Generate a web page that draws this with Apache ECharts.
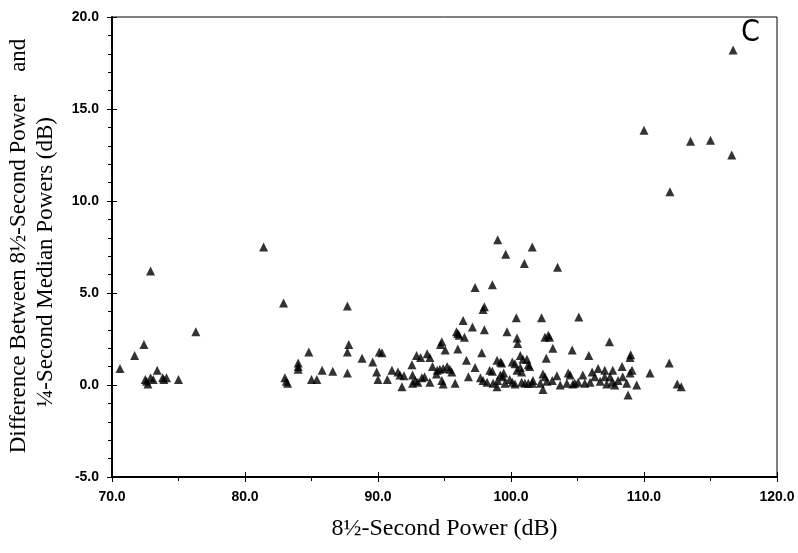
<!DOCTYPE html>
<html>
<head>
<meta charset="utf-8">
<script src="https://cdn.jsdelivr.net/npm/echarts@6/dist/echarts.min.js"></script>
<style>html,body{margin:0;padding:0;background:#fff}#c{width:798px;height:553px}</style>
</head>
<body>
<div id="c"></div>
<script>
// 8½-second power (dB)
var powerX = [
70.6,71.7,72.4,72.9,72.5,72.6,72.7,72.9,73.1,73.4,73.8,73.9,74.1,75.0,76.3,
81.4,82.9,83.0,83.1,83.2,84.0,84.0,84.0,84.8,85.0,85.4,85.8,86.6,87.7,87.7,87.8,87.7,
88.8,89.6,90.1,90.3,89.9,90.0,90.7,91.05,91.5,91.65,91.95,91.8,92.55,92.6,92.8,93.0,92.6,92.9,
93.2,93.7,93.9,93.3,93.5,93.9,94.1,94.45,94.4,94.65,94.9,95.2,95.4,95.55,94.8,94.7,94.8,94.9,
95.05,95.8,95.9,96.0,96.1,96.0,96.4,96.5,96.65,96.8,97.1,97.3,97.3,97.8,97.7,97.9,97.9,98.0,
98.0,98.2,98.4,98.6,98.6,98.65,98.95,98.95,99.2,99.3,99.0,99.0,99.2,99.4,99.45,99.55,99.6,99.7,
99.9,100.1,100.1,100.3,100.3,100.4,100.45,100.5,100.7,100.45,100.7,100.8,100.8,100.9,101.05,101.3,
101.6,101.0,101.2,101.3,101.4,101.6,101.65,102.2,102.3,102.55,102.8,102.9,102.4,102.55,102.7,102.65,
102.4,103.15,103.1,103.45,103.5,103.7,104.2,104.3,104.45,104.65,104.8,104.6,105.05,105.1,105.4,105.55,
105.85,105.95,106.1,106.3,106.55,106.7,107.05,107.05,107.2,107.45,107.4,107.6,107.65,107.8,108.05,108.35,
108.4,108.7,108.8,108.95,109.0,108.95,109.1,109.45,110.0,110.45,111.9,111.95,112.5,112.8,113.5,115.0,
116.6,116.7
];
// Difference between 8½-second power and ¼-second median powers (dB)
var diffY = [
0.9,1.6,2.2,6.2,0.3,0.2,0.05,0.4,0.3,0.8,0.4,0.3,0.4,0.3,2.9,
7.5,4.45,0.4,0.2,0.1,1.2,1.0,0.85,1.8,0.3,0.3,0.8,0.75,0.65,1.8,2.2,4.3,
1.45,1.25,1.8,1.75,0.7,0.3,0.3,0.8,0.7,0.55,0.5,-0.1,1.1,0.55,0.25,0.15,0.1,1.6,
1.5,1.7,1.5,0.4,0.45,0.15,1.0,0.8,0.6,0.85,0.9,1.0,0.85,0.7,2.35,2.2,0.25,0.05,
1.9,0.1,2.9,2.8,2.7,1.95,3.5,2.6,1.35,0.45,3.15,0.95,5.3,1.75,0.4,0.25,4.1,4.25,
3.0,0.15,0.8,5.45,0.75,0.1,-0.1,1.35,1.25,1.2,7.9,0.25,0.55,0.45,0.65,0.1,7.1,2.9,
0.3,0.15,1.25,1.15,0.05,3.65,2.55,2.25,1.6,0.8,0.95,0.7,0.15,1.4,0.1,0.1,
0.1,6.6,1.4,1.1,1.0,7.5,0.25,0.1,3.65,2.6,2.7,2.6,0.6,0.45,0.2,1.45,
-0.25,2.0,0.25,0.5,6.4,0.0,0.1,0.65,0.55,0.05,0.1,1.9,0.15,3.7,0.55,0.1,
1.6,0.15,0.7,0.45,0.9,0.2,0.8,0.45,0.05,0.45,2.35,0.15,0.8,0.0,0.25,1.0,
0.45,0.1,-0.55,0.65,1.65,1.5,0.8,0.0,13.85,0.65,1.2,10.5,0.05,-0.1,13.25,13.3,
12.5,18.2
];
var xTicks = {min: 70, max: 120, step: 10};
var yTicks = {min: -5, max: 20, step: 5};
var panelLabel = 'C';
var xTitle = '8½-Second Power (dB)';
var yTitle1 = 'Difference Between 8½-Second Power    and';
var yTitle2 = '¼-Second Median Powers (dB)';

var pts = powerX.map(function (x, i) { return [x, diffY[i]]; });
var fmt = function (v) { return v.toFixed(1); };
var lblStyle = {color: '#000', fontFamily: 'Liberation Sans', fontWeight: 'bold', fontSize: 14};

var chart = echarts.init(document.getElementById('c'));
chart.setOption({
  backgroundColor: '#fff',
  animation: false,
  grid: {left: 112, right: 21, top: 17, bottom: 76, show: true, borderColor: '#000', borderWidth: 1, backgroundColor: 'transparent'},
  xAxis: [{
    type: 'value', min: xTicks.min, max: xTicks.max, interval: xTicks.step,
    axisLine: {onZero: false, lineStyle: {color: '#000', width: 2}},
    axisTick: {show: true, length: 5, lineStyle: {color: '#000', width: 1}},
    minorTick: {show: true, splitNumber: 2, length: 4, lineStyle: {color: '#000'}},
    splitLine: {show: false},
    axisLabel: Object.assign({formatter: fmt, margin: 13}, lblStyle),
    name: xTitle, nameLocation: 'middle', nameGap: 40,
    nameTextStyle: {fontFamily: 'Liberation Serif', fontSize: 24, color: '#000'}
  }, {
    type: 'value', min: xTicks.min, max: xTicks.max, interval: xTicks.step, position: 'bottom',
    axisLine: {show: false, onZero: false},
    axisTick: {show: true, inside: true, length: 5, lineStyle: {color: '#000'}},
    axisLabel: {show: false}, splitLine: {show: false}
  }],
  yAxis: [{
    type: 'value', min: yTicks.min, max: yTicks.max, interval: yTicks.step,
    axisLine: {show: true, onZero: false, lineStyle: {color: '#000', width: 2}},
    axisTick: {show: true, length: 5, lineStyle: {color: '#000'}},
    minorTick: {show: true, splitNumber: 5, length: 4, lineStyle: {color: '#000'}},
    splitLine: {show: false},
    axisLabel: Object.assign({formatter: fmt, margin: 13}, lblStyle)
  }, {
    type: 'value', min: yTicks.min, max: yTicks.max, interval: yTicks.step, position: 'left',
    axisLine: {show: false, onZero: false},
    axisTick: {show: true, inside: true, length: 5, lineStyle: {color: '#000'}},
    axisLabel: {show: false}, splitLine: {show: false}
  }],
  graphic: [
    {type: 'text', left: 741, top: 18, style: {text: panelLabel, font: '30px "Liberation Sans Narrow", "DejaVu Sans Condensed", sans-serif', fill: '#000'}},
    {type: 'text', x: 19, y: 246, rotation: Math.PI / 2, style: {text: yTitle1, font: '23px "Liberation Serif"', fill: '#000', textAlign: 'center', textVerticalAlign: 'middle'}},
    {type: 'text', x: 46, y: 262, rotation: Math.PI / 2, style: {text: yTitle2, font: '23px "Liberation Serif"', fill: '#000', textAlign: 'center', textVerticalAlign: 'middle'}}
  ],
  series: [{
    type: 'scatter', data: pts, symbol: 'triangle', symbolSize: 9,
    itemStyle: {color: '#000'}
  }]
});
</script>
</body>
</html>
